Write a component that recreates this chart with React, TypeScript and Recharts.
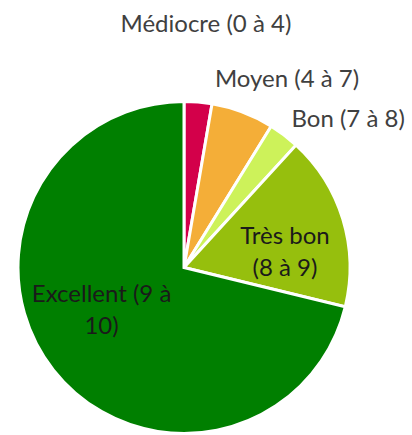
import React from 'react';
import { PieChart, Pie, Cell } from 'recharts';

const categories = ['Médiocre (0 à 4)', 'Moyen (4 à 7)', 'Bon (7 à 8)', 'Très bon (8 à 9)', 'Excellent (9 à 10)'];
const shares = [2.7, 6.1, 3.0, 17.0, 71.2];
const labelLines = [
  ['Médiocre (0 à 4)'],
  ['Moyen (4 à 7)'],
  ['Bon (7 à 8)'],
  ['Très bon', '(8 à 9)'],
  ['Excellent (9 à', '10)'],
];

const colors = ['#D3004A', '#F4AE38', '#CDF25A', '#96BF0D', '#007F00'];
const labelColors = ['#404040', '#404040', '#404040', '#1a1a1a', '#1a1a1a'];
// label placement: radius factor (relative to outer radius) and angle (deg, ccw from 3 o'clock)
const labelPlace = [
  { r: 1.485, a: 84.9 },
  { r: 1.305, a: 61.6 },
  { r: 1.341, a: 42.5 },
  { r: 0.618, a: 10.1 },
  { r: 0.552, a: 205.9 },
];

const data = categories.map((name, i) => ({ name, value: shares[i] }));

const RAD = Math.PI / 180;
const FONT = 'Lato, "Open Sans", sans-serif';

const renderLabel = (props: any) => {
  const { cx, cy, outerRadius, index } = props;
  const p = labelPlace[index];
  const x = cx + outerRadius * p.r * Math.cos(p.a * RAD);
  const y = cy - outerRadius * p.r * Math.sin(p.a * RAD);
  const lines = labelLines[index];
  const lh = 32;
  const y0 = y - ((lines.length - 1) * lh) / 2;
  return (
    <text
      key={`lbl-${index}`}
      x={x}
      y={y0}
      textAnchor="middle"
      dominantBaseline="central"
      fill={labelColors[index]}
      style={{ fontFamily: FONT, fontSize: 24 }}
    >
      {lines.map((t, j) => (
        <tspan key={j} x={x} y={y0 + j * lh}>
          {t}
        </tspan>
      ))}
    </text>
  );
};

export default function App() {
  return (
    <div style={{ position: 'absolute', left: 0, top: 0, width: 412, height: 435, background: '#fff' }}>
      <PieChart width={412} height={435} margin={{ top: 0, right: 0, bottom: 0, left: 0 }}>
        <Pie
          data={data}
          dataKey="value"
          nameKey="name"
          cx={184}
          cy={267.5}
          outerRadius={166}
          startAngle={90}
          endAngle={-270}
          stroke="#ffffff"
          strokeWidth={3}
          label={renderLabel}
          labelLine={false}
          isAnimationActive={false}
        >
          {data.map((d, i) => (
            <Cell key={d.name} fill={colors[i]} />
          ))}
        </Pie>
      </PieChart>
    </div>
  );
}
